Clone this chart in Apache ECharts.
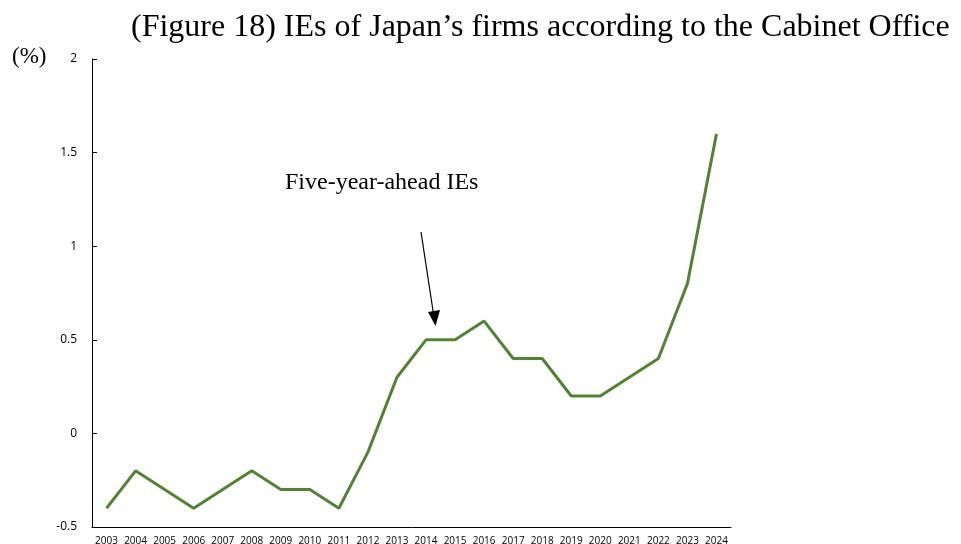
<!DOCTYPE html>
<html>
<head>
<meta charset="utf-8">
<script src="https://cdn.jsdelivr.net/npm/echarts@6/dist/echarts.min.js"></script>
<style>html,body{margin:0;padding:0;background:#fff}#c{width:961px;height:544px}</style>
</head>
<body>
<div id="c"></div>
<script>
const years = ['2003','2004','2005','2006','2007','2008','2009','2010','2011','2012','2013','2014','2015','2016','2017','2018','2019','2020','2021','2022','2023','2024'];
const fiveYearAhead = [-0.4,-0.2,-0.3,-0.4,-0.3,-0.2,-0.3,-0.3,-0.4,-0.1,0.3,0.5,0.5,0.6,0.4,0.4,0.2,0.2,0.3,0.4,0.8,1.6];
const yTicks = {min:-0.5, max:2, interval:0.5};
const titleText = '(Figure 18) IEs of Japan\u2019s firms according to the Cabinet Office';
const unitText = '(%)';
const annotText = 'Five-year-ahead IEs';

const chart = echarts.init(document.getElementById('c'));
const serif = '"Liberation Serif", "Times New Roman", serif';
chart.setOption({
  animation:false,
  grid:{left:92,right:230,top:59,bottom:17,outerBoundsMode:'none',containLabel:false},
  xAxis:{
    type:'category', data:years, boundaryGap:true,
    axisLine:{onZero:false,lineStyle:{color:'#000',width:1}},
    axisTick:{inside:true,length:4,lineStyle:{color:'#000'}},
    axisLabel:{color:'#000',fontSize:10,margin:9,interval:0,fontFamily:'"Open Sans", sans-serif'}
  },
  yAxis:{
    type:'value', min:yTicks.min, max:yTicks.max, interval:yTicks.interval,
    splitLine:{show:false},
    axisLine:{show:true,lineStyle:{color:'#000',width:1}},
    axisTick:{show:true,inside:true,length:5,lineStyle:{color:'#000'}},
    axisLabel:{color:'#000',fontSize:12,margin:15,fontFamily:'"Open Sans", sans-serif'}
  },
  series:[{
    type:'line', data:fiveYearAhead, symbol:'none',
    lineStyle:{color:'#548235',width:3}
  }],
  graphic:[
    {type:'text',x:131,y:28,style:{text:titleText,font:'32px '+serif,fill:'#000',verticalAlign:'middle'}},
    {type:'text',x:12,y:57,style:{text:unitText,font:'23px '+serif,fill:'#000',verticalAlign:'middle'}},
    {type:'text',x:285,y:183,style:{text:annotText,font:'24px '+serif,fill:'#000',verticalAlign:'middle'}},
    {type:'line',shape:{x1:421,y1:232,x2:433.5,y2:314},style:{stroke:'#000',lineWidth:1.2}},
    {type:'polygon',shape:{points:[[428,312],[440,310],[435.5,326]]},style:{fill:'#000'}}
  ]
});
</script>
</body>
</html>
